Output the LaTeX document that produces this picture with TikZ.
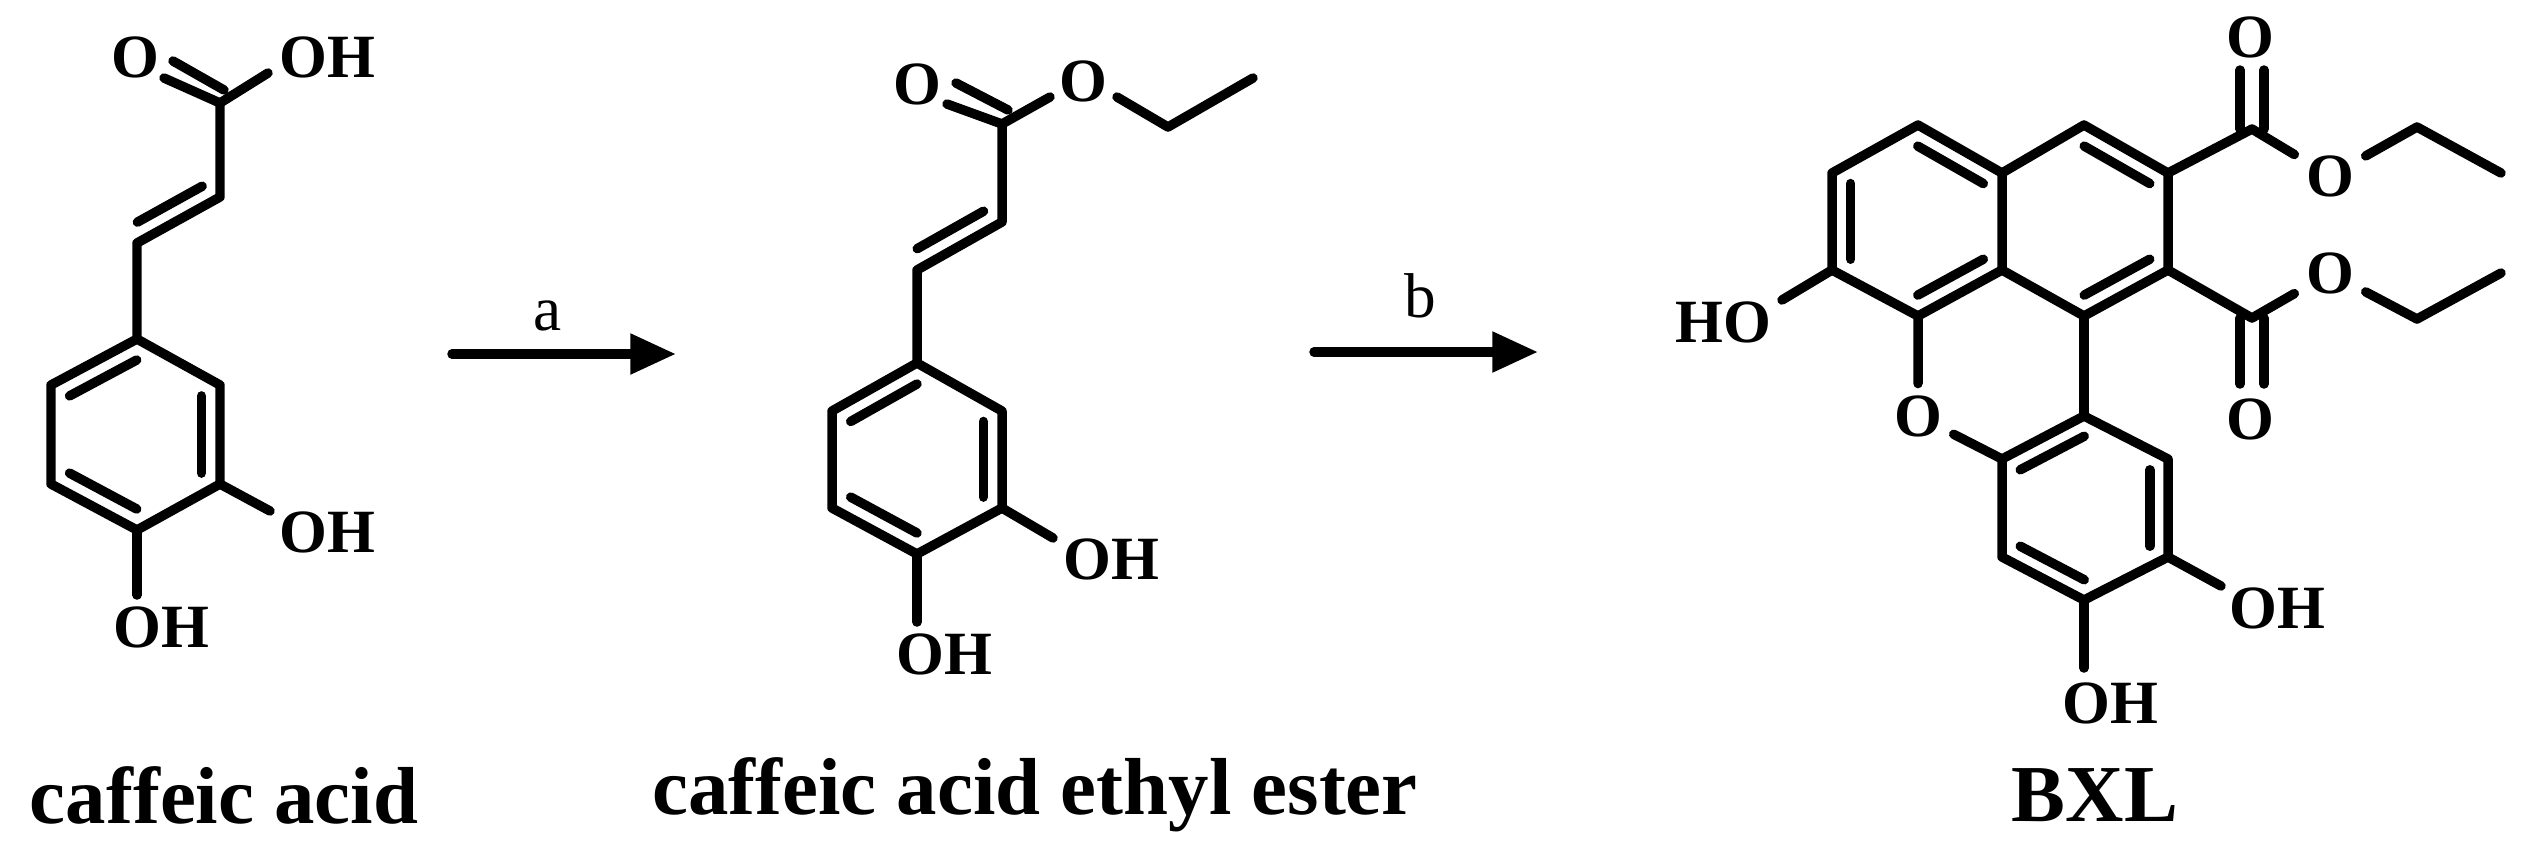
\documentclass[tikz,border=0pt]{standalone}
\usepackage{fontspec}
\setmainfont{Liberation Serif}
\usetikzlibrary{calc,arrows.meta}
\newcommand\ib[3]{\draw ($(#1)!0.22!(#3)$) -- ($(#2)!0.22!(#3)$);}
\begin{document}
\begin{tikzpicture}[x=0.1mm,y=-0.1mm,line width=2.7pt,line cap=round,line join=round,
  atom/.style={font=\fontsize{17.5}{17.5}\selectfont\bfseries,inner sep=2pt},
  molname/.style={font=\fontsize{23}{23}\selectfont\bfseries,inner sep=0pt},
  cond/.style={font=\fontsize{18}{18}\selectfont,inner sep=0pt},
  rxn/.style={-{Triangle[length=13pt,width=11pt]},line width=2.7pt}]
\useasboundingbox (0,0) rectangle (2528,850);
% ---------- caffeic acid ----------
\coordinate (a1) at (137,339); \coordinate (a2) at (220,385); \coordinate (a3) at (220,484);
\coordinate (a4) at (137,530); \coordinate (a5) at (51,484); \coordinate (a6) at (51,385);
\coordinate (ac) at (135.5,434.5);
\coordinate (av1) at (137,243); \coordinate (av2) at (220,197); \coordinate (avc) at (139,148);
\coordinate (aC) at (220,103);
\node[atom] (aO) at (135,57) {O};
\node[atom] (aOH) at (327,57) {OH};
\node[atom] (aOH1) at (327,532) {OH};
\node[atom] (aOH2) at (161,627) {OH};
\draw (a1)--(a2)--(a3)--(a4)--(a5)--(a6)--cycle;
\ib{a1}{a6}{ac} \ib{a2}{a3}{ac} \ib{a4}{a5}{ac}
\draw (a1)--(av1)--(av2)--(aC);
\ib{av1}{av2}{avc}
\draw (aC)--(164,78);
\draw (224,90)--(173,61);
\draw (aC)--(268,73);
\draw (a3)--(270,511);
\draw (a4)--(137,595);
\node[molname] (acap) at (224,795) {caffeic acid};
% arrow a
\coordinate (ra1) at (452,354); \coordinate (ra2) at (676,354);
\draw[rxn] (ra1)--(ra2);
\node[cond] (la) at (548,316) {a};
% ---------- ethyl ester ----------
\coordinate (e1) at (917,363); \coordinate (e2) at (1002,411); \coordinate (e3) at (1002,508);
\coordinate (e4) at (917,554); \coordinate (e5) at (832,508); \coordinate (e6) at (832,411);
\coordinate (ec) at (917,458.5);
\coordinate (ev1) at (917,270); \coordinate (ev2) at (1002,222); \coordinate (evc) at (918,173);
\coordinate (eC) at (1002,124);
\coordinate (eCH2) at (1168,127); \coordinate (eCH3) at (1253,78);
\node[atom] (eO) at (917,84) {O};
\node[atom] (eOs) at (1083,81) {O};
\node[atom] (eOH1) at (1111,559) {OH};
\node[atom] (eOH2) at (944,654) {OH};
\draw (e1)--(e2)--(e3)--(e4)--(e5)--(e6)--cycle;
\ib{e1}{e6}{ec} \ib{e2}{e3}{ec} \ib{e4}{e5}{ec}
\draw (e1)--(ev1)--(ev2)--(eC);
\ib{ev1}{ev2}{evc}
\draw (eC)--(947,104);
\draw (1008,110)--(956,83);
\draw (eC)--(1050,97);
\draw (1117,97)--(eCH2)--(eCH3);
\draw (e3)--(1053,538);
\draw (e4)--(917,622);
\node[molname] (ecap) at (1035,795) {caffeic acid ethyl ester};
% arrow b
\coordinate (rb1) at (1314,352); \coordinate (rb2) at (1538,352);
\draw[rxn] (rb1)--(rb2);
\node[cond] (lb) at (1420,296) {b};
% ---------- BXL ----------
\coordinate (A) at (1918,125); \coordinate (B) at (1832,173); \coordinate (C) at (1832,270);
\coordinate (D) at (1918,316); \coordinate (E) at (2002,270); \coordinate (F) at (2002,173);
\coordinate (G) at (2084,125); \coordinate (H) at (2168,173); \coordinate (I) at (2168,270);
\coordinate (J) at (2084,316);
\coordinate (K) at (2002,459); \coordinate (L) at (2084,416); \coordinate (M) at (2168,459);
\coordinate (N) at (2168,557); \coordinate (P) at (2084,600); \coordinate (Q) at (2002,557);
\coordinate (c1) at (1917,221); \coordinate (c2) at (2085,221); \coordinate (c3) at (2085,508);
\node[atom] (Ox) at (1918,416) {O};
\coordinate (C1) at (2252,129); \coordinate (C2) at (2252,318);
\node[atom] (O1d) at (2250,37) {O};
\node[atom] (O1s) at (2330,176) {O};
\node[atom] (O2d) at (2250,419) {O};
\node[atom] (O2s) at (2330,273) {O};
\coordinate (T1) at (2417,127); \coordinate (T2) at (2501,173);
\coordinate (U1) at (2417,319); \coordinate (U2) at (2501,273);
\node[atom] (HO) at (1723,322) {HO};
\node[atom] (bOH1) at (2277,608) {OH};
\node[atom] (bOH2) at (2110,703) {OH};
\draw (A)--(B)--(C)--(D)--(E)--(F)--cycle;
\draw (F)--(G)--(H)--(I)--(J)--(E);
\draw (K)--(L)--(M)--(N)--(P)--(Q)--cycle;
\draw (D)--(Ox)--(K);
\draw (J)--(L);
\ib{A}{F}{c1} \ib{B}{C}{c1} \ib{D}{E}{c1}
\ib{G}{H}{c2} \ib{I}{J}{c2}
\ib{K}{L}{c3} \ib{M}{N}{c3} \ib{Q}{P}{c3}
\draw (H)--(C1)--(O1s)--(T1)--(T2);
\draw (2240,129)--(2240,70); \draw (2264,129)--(2264,70);
\draw (I)--(C2)--(O2s)--(U1)--(U2);
\draw (2240,318)--(2240,384); \draw (2264,318)--(2264,384);
\draw (C)--(1782,300);
\draw (N)--(2221,586);
\draw (P)--(2084,668);
\node[molname] (bcap) at (2095,795) {BXL};
\end{tikzpicture}
\end{document}
